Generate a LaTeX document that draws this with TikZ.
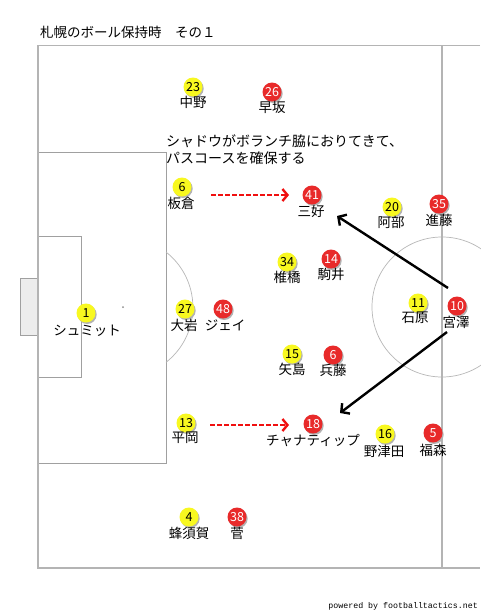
\documentclass[tikz,border=0pt]{standalone}
\usepackage{fontspec}
\newfontfamily\jp{Noto Sans CJK JP}
\newfontfamily\monof{Liberation Mono}
\usetikzlibrary{arrows.meta}
\definecolor{pline}{HTML}{B4B4B4}
\definecolor{pthin}{HTML}{A0A0A0}
\definecolor{parc}{HTML}{B8B8B8}
\definecolor{pyel}{HTML}{F8F820}
\definecolor{pred}{HTML}{E82A2A}
\definecolor{dred}{HTML}{F01010}
\newcommand\pl[8]{%
  \fill[black!30] (#3+1.2,#4+1.5) circle (9.5);
  \node[#2] (#1) at (#3,#4) {#5};
  \node[lbl] (#1l) at (#6,#7) {#8};}
\begin{document}
\begin{tikzpicture}[x=1pt,y=-1pt,
  outer/.style={draw=pline, line width=1.6pt},
  inner/.style={draw=pthin, line width=0.9pt},
  thinarc/.style={draw=parc, line width=0.7pt},
  yel/.style={circle, fill=pyel, minimum size=19pt, inner sep=0pt, text=black, font=\jp\fontsize{12.5}{12}\selectfont},
  redp/.style={circle, fill=pred, minimum size=19pt, inner sep=0pt, text=white, font=\jp\fontsize{12.5}{12}\selectfont},
  lbl/.style={inner sep=0pt, font=\jp\fontsize{13.5}{14}\selectfont},
  move/.style={black, line width=2.4pt, -{Straight Barb[length=6pt, width=13pt, line width=2.4pt]}},
  run/.style={dred, line width=2.4pt, dash pattern=on 4.5pt off 2.5pt, -{Straight Barb[length=5pt, width=12pt, line width=2.4pt]}}
]
\useasboundingbox (0,0) rectangle (480,614);
\fill[white] (0,0) rectangle (480,614);
% goal
\filldraw[fill=black!7, draw=pthin, line width=0.9pt] (20,278) rectangle (38,335);
% penalty box and goal area
\draw[inner] (38,152) -- (166,152) -- (166,463) -- (38,463);
\draw[inner] (38,236) -- (81,236) -- (81,377) -- (38,377);
% penalty arc and spot
\draw[thinarc] (166,252) arc[start angle=-52, end angle=52, radius=70];
\fill[black!45] (123,307) circle (1);
% centre circle
\draw[thinarc] (442,307) circle (70);
\fill[black!45] (442,307) circle (1);
% outer lines
\draw[outer] (480,45.5) -- (38,45.5) -- (38,568) -- (480,568);
\draw[outer] (442,45.5) -- (442,568);
% title
\node[anchor=west, inner sep=0pt, font=\jp\fontsize{13.5}{14}\selectfont] (title) at (40,32) {札幌のボール保持時　その１};
\node[anchor=north west, inner sep=0pt, align=left, font=\jp\fontsize{14}{17}\selectfont] (note) at (166,134) {シャドウがボランチ脇におりてきて、\\パスコースを確保する};
% players
\pl{p23}{yel}{193}{87}{23}{193}{102}{中野}
\pl{p26}{redp}{272}{92}{26}{272}{107}{早坂}
\pl{p6y}{yel}{182}{187}{6}{181}{203}{板倉}
\pl{p41}{redp}{312}{195}{41}{311}{211}{三好}
\pl{p20}{yel}{392}{207}{20}{391}{222}{阿部}
\pl{p35}{redp}{439}{204}{35}{439}{220}{進藤}
\pl{p34}{yel}{287}{262}{34}{287}{277}{椎橋}
\pl{p14}{redp}{331}{259}{14}{331}{274}{駒井}
\pl{p1}{yel}{86}{313}{1}{87}{331}{シュミット}
\pl{p27}{yel}{185}{309}{27}{184}{325}{大岩}
\pl{p48}{redp}{223}{309}{48}{225}{325}{ジェイ}
\pl{p11}{yel}{418}{303}{11}{415}{318}{石原}
\pl{p10}{redp}{457}{306}{10}{456}{322}{宮澤}
\pl{p15}{yel}{292}{354}{15}{292}{369}{矢島}
\pl{p6r}{redp}{333}{355}{6}{333}{370}{兵藤}
\pl{p13}{yel}{186}{423}{13}{185}{438}{平岡}
\pl{p18}{redp}{313}{424}{18}{313}{440}{チャナティップ}
\pl{p16}{yel}{385}{434}{16}{384}{451}{野津田}
\pl{p5}{redp}{433}{433}{5}{433}{450}{福森}
\pl{p4}{yel}{189}{517}{4}{189}{533}{蜂須賀}
\pl{p38}{redp}{237}{517}{38}{237}{533}{菅}
% arrows
\coordinate (a1s) at (448,288);
\coordinate (a1e) at (337,216);
\coordinate (a2s) at (447,332);
\coordinate (a2e) at (340,413);
\draw[move] (a1s) -- (a1e);
\draw[move] (a2s) -- (a2e);
\coordinate (r1s) at (211,195);
\coordinate (r1e) at (289,195);
\coordinate (r2s) at (210,425);
\coordinate (r2e) at (289,425);
\draw[run] (r1s) -- (r1e);
\draw[run] (r2s) -- (r2e);
% credit
\node[anchor=east, inner sep=0pt, font=\monof\fontsize{8.3}{8}\selectfont] (credit) at (478,606) {powered by footballtactics.net};
\end{tikzpicture}
\end{document}
